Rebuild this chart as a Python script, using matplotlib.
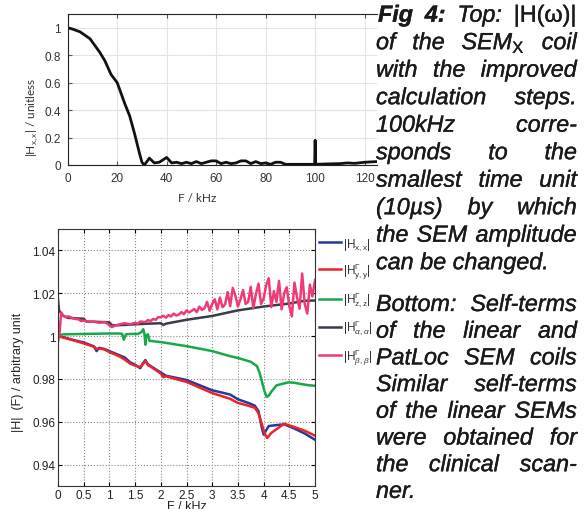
import matplotlib
matplotlib.use('Agg')
import matplotlib.pyplot as plt
import matplotlib.patheffects as pe
from matplotlib.ticker import FuncFormatter, MultipleLocator

plt.rcParams['font.family'] = ['Liberation Sans', 'DejaVu Sans']
plt.rcParams['mathtext.fontset'] = 'custom'
plt.rcParams['mathtext.rm'] = 'Liberation Sans'
plt.rcParams['mathtext.it'] = 'Liberation Sans:italic'
plt.rcParams['mathtext.bf'] = 'Liberation Sans:bold'

# ---- top panel: |H_x,x| of the SEM_X coil (kHz) ----
top_freq = [0, 2, 5, 9, 13, 15, 17.5, 20, 23, 25, 27, 29, 30, 31, 33, 35, 37,
            40, 42, 44, 46, 48, 50, 52, 54, 56, 58, 60, 62, 64, 66, 68, 70,
            72, 74, 76, 78, 80, 82, 84, 86, 88, 90, 95, 99.8, 100, 100.2,
            105, 110, 113, 116, 120, 125]
top_mag = [1.0, 0.99, 0.97, 0.92, 0.82, 0.76, 0.66, 0.60, 0.45, 0.36, 0.23,
           0.086, 0.02, 0.0, 0.05, 0.015, 0.02, 0.055, 0.015, 0.02, 0.01,
           0.02, 0.01, 0.025, 0.01, 0.02, 0.03, 0.03, 0.01, 0.02, 0.01,
           0.015, 0.03, 0.03, 0.01, 0.025, 0.01, 0.015, 0.005, 0.02, 0.02,
           0.005, 0.005, 0.005, 0.005, 0.18, 0.005, 0.008, 0.01, 0.015,
           0.012, 0.02, 0.025]

# ---- bottom panel: self-terms (kHz) ----
xx_freq = [0, 0.1, 0.3, 0.5, 0.7, 0.75, 0.8, 0.9, 1.0, 1.2, 1.3, 1.4, 1.5,
           1.6, 1.65, 1.7, 1.75, 1.8, 2.0, 2.1, 2.5, 3.0, 3.35, 3.5, 3.7,
           3.83, 3.9, 3.96, 4.0, 4.05, 4.1, 4.2, 4.4, 4.6, 4.8, 5.0]
xx_mag = [1.0, 0.9995, 0.9982, 0.9970, 0.9952, 0.9930, 0.9945, 0.9940,
          0.9930, 0.9910, 0.9900, 0.9878, 0.9866, 0.9850, 0.9872, 0.9888,
          0.9868, 0.9860, 0.9830, 0.9815, 0.9795, 0.9747, 0.9727, 0.9705,
          0.9688, 0.9675, 0.9650, 0.9578, 0.9540, 0.9560, 0.9580, 0.9583,
          0.9588, 0.9568, 0.9545, 0.9516]

yy_freq = [0, 0.1, 0.3, 0.5, 0.7, 0.75, 0.8, 0.9, 1.0, 1.2, 1.3, 1.4, 1.5,
           1.6, 1.65, 1.7, 1.75, 1.8, 2.0, 2.05, 2.1, 2.5, 3.0, 3.35, 3.5,
           3.7, 3.83, 3.9, 3.97, 4.02, 4.07, 4.15, 4.25, 4.4, 4.6, 4.8, 5.0]
yy_mag = [1.0, 0.9993, 0.9980, 0.9966, 0.9950, 0.9940, 0.9942, 0.9938,
          0.9925, 0.9905, 0.9890, 0.9872, 0.9862, 0.9856, 0.9868, 0.9884,
          0.9864, 0.9858, 0.9825, 0.9808, 0.9812, 0.9786, 0.9734, 0.9707,
          0.9688, 0.9675, 0.9665, 0.9640, 0.9585, 0.9545, 0.9524, 0.9548,
          0.9565, 0.9591, 0.9575, 0.9558, 0.9535]

zz_freq = [0, 0.1, 0.5, 1.0, 1.2, 1.25, 1.28, 1.32, 1.4, 1.55, 1.62, 1.66,
           1.68, 1.70, 1.72, 1.75, 1.78, 1.85, 2.0, 2.5, 3.0, 3.35, 3.5,
           3.75, 3.87, 3.92, 3.97, 4.02, 4.06, 4.1, 4.15, 4.25, 4.48, 4.6,
           4.75, 4.9, 5.0]
zz_mag = [1.0005, 1.0008, 1.0010, 1.0012, 1.0012, 1.0010, 0.9983, 1.0008,
          1.0010, 1.0010, 1.0018, 1.0032, 1.0012, 0.9960, 1.0005, 1.0008,
          0.9978, 0.9976, 0.9972, 0.9953, 0.9930, 0.9906, 0.9898, 0.9880,
          0.9860, 0.9830, 0.9785, 0.9740, 0.9716, 0.9722, 0.9740, 0.9770,
          0.9784, 0.9782, 0.9775, 0.9770, 0.9768]

aa_freq = [0, 0.02, 0.05, 0.1, 0.2, 0.5, 0.55, 0.8, 1.0, 1.05, 1.3, 1.5,
           1.75, 2.0, 2.05, 2.1, 2.5, 3.0, 3.5, 4.0, 4.5, 4.8, 5.0]
aa_mag = [1.017, 1.012, 1.011, 1.0095, 1.0085, 1.0081, 1.0068, 1.0066,
          1.0064, 1.0050, 1.0052, 1.0055, 1.0058, 1.0060, 1.0052, 1.0058,
          1.0076, 1.0094, 1.0120, 1.0138, 1.0152, 1.0165, 1.0166]

bb_freq = [0.00, 0.03, 0.06, 0.10, 0.15, 0.20, 0.30, 0.40, 0.45, 0.50, 0.60,
           0.70, 0.80, 0.90, 0.95, 1.00, 1.05, 1.10, 1.20, 1.30, 1.40, 1.50,
           1.55, 1.60, 1.70, 1.75, 1.80, 1.85, 1.90, 1.95,
           2.00, 2.05, 2.10, 2.15, 2.20, 2.25, 2.30, 2.35, 2.40, 2.45,
           2.50, 2.55, 2.60, 2.65, 2.70, 2.75, 2.80, 2.85, 2.90, 2.95,
           3.00, 3.05, 3.10, 3.15, 3.20, 3.25, 3.30, 3.35, 3.40, 3.45,
           3.50, 3.55, 3.60, 3.65, 3.70, 3.75, 3.80, 3.85, 3.90, 3.95,
           4.00, 4.05, 4.10, 4.15, 4.20, 4.25, 4.30, 4.35, 4.40, 4.45,
           4.50, 4.55, 4.60, 4.65, 4.70, 4.75, 4.80, 4.85, 4.90, 4.95, 5.00]
bb_mag = [0.9975, 1.0010, 1.0110, 1.0095, 1.0088, 1.0092, 1.0082, 1.0078,
          1.0070, 1.0072, 1.0066, 1.0068, 1.0062, 1.0066, 1.0060, 1.0050,
          1.0042, 1.0048, 1.0055, 1.0060, 1.0055, 1.0062, 1.0058, 1.0068,
          1.0065, 1.0075, 1.0070, 1.0080, 1.0076, 1.0088,
          1.0088, 1.0095, 1.0086, 1.0098, 1.0092, 1.0105, 1.0096, 1.0100,
          1.0112, 1.0102, 1.0120, 1.0110, 1.0118, 1.0126, 1.0112, 1.0138,
          1.0122, 1.0130, 1.0160, 1.0118, 1.0150, 1.0172, 1.0125, 1.0180,
          1.0135, 1.0148, 1.0205, 1.0140, 1.0225, 1.0190, 1.0138, 1.0172,
          1.0215, 1.0150, 1.0160, 1.0230, 1.0130, 1.0195, 1.0245, 1.0150,
          1.0175, 1.0238, 1.0270, 1.0135, 1.0210, 1.0160, 1.0258, 1.0125,
          1.0200, 1.0228, 1.0140, 1.0092, 1.0250, 1.0180, 1.0128, 1.0292,
          1.0150, 1.0105, 1.0240, 1.0185, 1.0262]

series = [
    (xx_freq, xx_mag, '#233a9c', '|H$_{\\mathrm{x,x}}$|'),
    (yy_freq, yy_mag, '#ee2229', '|H$^{\\Gamma}_{\\mathrm{y,y}}$|'),
    (zz_freq, zz_mag, '#17a84a', '|H$^{\\Gamma}_{\\mathrm{z,z}}$|'),
    (aa_freq, aa_mag, '#3b3b4b', '|H$^{\\Gamma}_{\\alpha,\\alpha}$|'),
    (bb_freq, bb_mag, '#ee3a75', '|H$^{\\Gamma}_{\\beta,\\beta}$|'),
]

W, H = 588, 510


def px_box(x0, y0, x1, y1):
    return [x0 / W, 1 - y1 / H, (x1 - x0) / W, (y1 - y0) / H]


fmt = FuncFormatter(lambda v, _: f'{v:g}')

fig = plt.figure(figsize=(W / 100, H / 100), dpi=100)

# top panel
ax1 = fig.add_axes(px_box(67.7, 15, 377, 166))
ax1.plot(top_freq, top_mag, color='#111111', lw=2.0)
ax1.set_xlim(0, 125)
ax1.set_ylim(0, 1.1)
ax1.xaxis.set_major_locator(MultipleLocator(20))
ax1.yaxis.set_major_locator(MultipleLocator(0.2))
ax1.xaxis.set_major_formatter(fmt)
ax1.yaxis.set_major_formatter(fmt)
ax1.grid(True, color='#e4e4e4', lw=0.8)
ax1.set_axisbelow(True)
ax1.spines['right'].set_visible(False)
for s in ('top', 'left', 'bottom'):
    ax1.spines[s].set_color('#222222')
ax1.tick_params(direction='in', top=True, length=3, labelsize=8.5,
                labelcolor='#333333', color='#555555')
ax1.tick_params(axis='y', pad=5)
ax1.tick_params(axis='x', pad=5)
ax1.set_xlabel('F / kHz', fontsize=8.5, family=['Lato', 'DejaVu Sans'],
               color='#333333')
ax1.xaxis.set_label_coords(0.42, -0.18)
ax1.set_ylabel('|H$_{\\mathrm{x,x}}$| / unitless', fontsize=8.5,
               family=['Lato', 'DejaVu Sans'], color='#333333')
ax1.yaxis.label.set_verticalalignment('center')
ax1.yaxis.set_label_coords(-0.115, 0.32)

# bottom panel
ax2 = fig.add_axes(px_box(58, 230, 315, 487))
for f, m, c, lab in series:
    ax2.plot(f, m, color=c, lw=1.8, label=lab)
ax2.set_xlim(0, 5)
ax2.set_ylim(0.93, 1.05)
ax2.xaxis.set_major_locator(MultipleLocator(0.5))
ax2.yaxis.set_major_locator(MultipleLocator(0.02))
ax2.xaxis.set_major_formatter(fmt)
ax2.yaxis.set_major_formatter(fmt)
ax2.grid(True, color='#888888', ls=':', lw=0.8)
for s in ax2.spines.values():
    s.set_color('#333333')
ax2.tick_params(direction='in', top=True, right=True, length=3,
                labelsize=8.5, labelcolor='#222222', pad=2)
ax2.set_xlabel('F / kHz', fontsize=9, color='#222222')
ax2.xaxis.set_label_coords(0.5, -0.055)
ax2.set_ylabel('|H|  (F) / arbitrary unit', fontsize=9, color='#222222')
ax2.yaxis.label.set_verticalalignment('center')
ax2.yaxis.set_label_coords(-0.156, 0.447)

ax2.legend(loc='upper left', bbox_to_anchor=(319 / W, 1 - 237 / H),
           bbox_transform=fig.transFigure, frameon=False, fontsize=8.5,
           handlelength=1.9, handletextpad=0.15, labelspacing=0.75,
           borderaxespad=0, borderpad=0, labelcolor='#333333')

# caption, justified by hand word by word
FS = 16.8
INK = '#1a1a1a'
para1 = [
    [('Fig', 'bi'), ('4:', 'bi'), ('Top:', 'i'), ('|H(ω)|', 'r')],
    'of the SEM$_{\\mathrm{X}}$ coil',
    'with the improved',
    'calculation steps.',
    '100kHz corre-',
    'sponds to the',
    'smallest time unit',
    '(10µs) by which',
    'the SEM amplitude',
    'can be changed.',
]
para2 = [
    'Bottom: Self-terms',
    'of the linear and',
    'PatLoc SEM coils',
    'Similar self-terms',
    'of the linear SEMs',
    'were obtained for',
    'the clinical scan-',
    'ner.',
]

fig.canvas.draw()
renderer = fig.canvas.get_renderer()
thicken = [pe.withStroke(linewidth=0.25, foreground=INK)]


def caption_line(words, x0, x1, base, justify):
    if isinstance(words, str):
        words = [(w, 'i') for w in words.split(' ')]
    arts = []
    for w, st in words:
        t = fig.text(0, 1 - base / H, w, va='baseline', ha='left',
                     fontsize=FS, color=INK,
                     style='italic' if 'i' in st else 'normal',
                     weight='bold' if 'b' in st else 'normal',
                     path_effects=thicken)
        arts.append(t)
    widths = [t.get_window_extent(renderer).width for t in arts]
    if justify and len(arts) > 1:
        gap = (x1 - x0 - sum(widths)) / (len(arts) - 1)
    else:
        gap = FS * 100 / 72 * 0.278
    x = x0
    for t, w in zip(arts, widths):
        t.set_x(x / W)
        x += w + gap


for i, line in enumerate(para1):
    x0 = 378 if i == 0 else 376
    caption_line(line, x0, 577, 22.7 + 27.5 * i, i < len(para1) - 1)
for i, line in enumerate(para2):
    caption_line(line, 376, 577, 312 + 26.7 * i, i < len(para2) - 1)

fig.savefig('out.png', dpi=100)
